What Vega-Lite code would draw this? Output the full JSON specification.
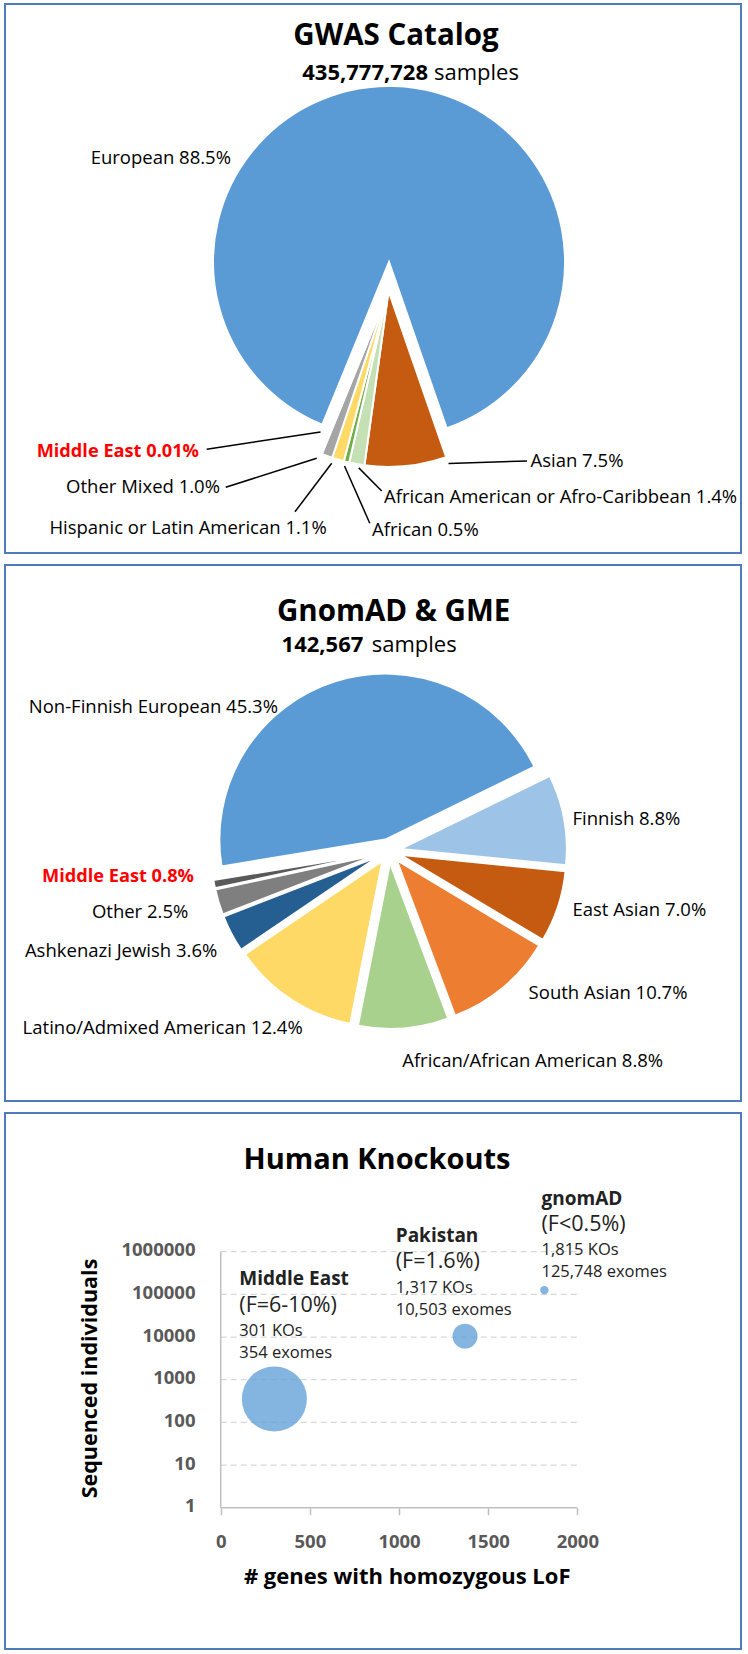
{
  "$schema": "https://vega.github.io/schema/vega-lite/v6.json",
  "padding": {"left": 4, "top": 3, "right": 0, "bottom": 0},
  "spacing": 10,
  "background": "white",
  "resolve": {"scale": {"color": "independent", "theta": "independent", "size": "independent"}},
  "config": {
    "font": "Open Sans",
    "view": {"stroke": "#4F7BBA", "strokeWidth": 2},
    "text": {"font": "Open Sans", "baseline": "alphabetic", "color": "#000000"},
    "axis": {"labelFont": "Open Sans", "titleFont": "Open Sans"}
  },
  "datasets": {
    "gwas": [
      {"population": "European", "pct": 88.5, "order": 1},
      {"population": "Asian", "pct": 7.5, "order": 2},
      {"population": "African American or Afro-Caribbean", "pct": 1.4, "order": 3},
      {"population": "African", "pct": 0.5, "order": 4},
      {"population": "Hispanic or Latin American", "pct": 1.1, "order": 5},
      {"population": "Other Mixed", "pct": 1.0, "order": 6},
      {"population": "Middle East", "pct": 0.01, "order": 7}
    ],
    "gnomad": [
      {"population": "Non-Finnish European", "pct": 45.3, "order": 1},
      {"population": "Finnish", "pct": 8.8, "order": 2},
      {"population": "East Asian", "pct": 7.0, "order": 3},
      {"population": "South Asian", "pct": 10.7, "order": 4},
      {"population": "African/African American", "pct": 8.8, "order": 5},
      {"population": "Latino/Admixed American", "pct": 12.4, "order": 6},
      {"population": "Ashkenazi Jewish", "pct": 3.6, "order": 7},
      {"population": "Other", "pct": 2.5, "order": 8},
      {"population": "Middle East", "pct": 0.8, "order": 9}
    ],
    "knockouts": [
      {"cohort": "Middle East", "genes": 301, "n": 354, "ko_per_exome": 0.85},
      {"cohort": "Pakistan", "genes": 1370, "n": 10503, "ko_per_exome": 0.125},
      {"cohort": "gnomAD", "genes": 1815, "n": 125748, "ko_per_exome": 0.0144}
    ]
  },
  "vconcat": [
    {
      "width": 736,
      "height": 549,
      "layer": [
        {
          "data": {"name": "gwas"},
          "transform": [
            {"stack": "pct", "groupby": [], "sort": [{"field": "order", "order": "ascending"}], "as": ["t0", "t1"]},
            {"filter": {"field": "population", "equal": "European"}}
          ],
          "mark": {"type": "arc", "outerRadius": 176, "stroke": "white", "strokeWidth": 2},
          "encoding": {
            "theta": {"field": "t0", "type": "quantitative", "scale": {"domain": [0, 100.01], "range": [3.5308, 9.814]}},
            "theta2": {"field": "t1"},
            "color": {"field": "population", "type": "nominal", "legend": null, "scale": {"domain": ["European", "Asian", "African American or Afro-Caribbean", "African", "Hispanic or Latin American", "Other Mixed", "Middle East"], "range": ["#5B9BD5", "#C55A11", "#C5E0B4", "#70AD47", "#FFD966", "#A5A5A5", "#7F7F7F"]}},
            "x": {"datum": 0.003, "type": "quantitative", "axis": null, "scale": {"domain": [-2.17898, 2.00284], "nice": false, "zero": false}},
            "y": {"datum": 0.165, "type": "quantitative", "axis": null, "scale": {"domain": [-1.48864, 1.63068], "nice": false, "zero": false}}
          }
        },
        {
          "data": {"name": "gwas"},
          "transform": [
            {"stack": "pct", "groupby": [], "sort": [{"field": "order", "order": "ascending"}], "as": ["t0", "t1"]},
            {"filter": {"not": {"field": "population", "equal": "European"}}}
          ],
          "mark": {"type": "arc", "outerRadius": 176, "stroke": "white", "strokeWidth": 2},
          "encoding": {
            "theta": {"field": "t0", "type": "quantitative", "scale": {"domain": [0, 100.01], "range": [3.5308, 9.814]}},
            "theta2": {"field": "t1"},
            "color": {"field": "population", "type": "nominal", "legend": null, "scale": {"domain": ["European", "Asian", "African American or Afro-Caribbean", "African", "Hispanic or Latin American", "Other Mixed", "Middle East"], "range": ["#5B9BD5", "#C55A11", "#C5E0B4", "#70AD47", "#FFD966", "#A5A5A5", "#7F7F7F"]}},
            "x": {"datum": 0, "type": "quantitative", "axis": null, "scale": {"domain": [-2.17898, 2.00284], "nice": false, "zero": false}},
            "y": {"datum": 0, "type": "quantitative", "axis": null, "scale": {"domain": [-1.48864, 1.63068], "nice": false, "zero": false}}
          }
        },
        {
          "data": {"values": [
            {"x": -1.033, "y": -0.8994, "x2": -0.3864, "y2": -0.8011},
            {"x": -0.925, "y": -1.1153, "x2": -0.408, "y2": -0.9506},
            {"x": -0.5313, "y": -1.254, "x2": -0.3227, "y2": -0.979},
            {"x": -0.1063, "y": -1.3193, "x2": -0.25, "y2": -0.9943},
            {"x": -0.0386, "y": -1.1364, "x2": -0.1688, "y2": -1.0051},
            {"x": 0.3409, "y": -0.9801, "x2": 0.7869, "y2": -0.9659}
          ]},
          "mark": {"type": "rule", "color": "#000000", "strokeWidth": 1.5},
          "encoding": {
            "x": {"field": "x", "type": "quantitative", "axis": null, "scale": {"domain": [-2.17898, 2.00284], "nice": false, "zero": false}},
            "y": {"field": "y", "type": "quantitative", "axis": null, "scale": {"domain": [-1.48864, 1.63068], "nice": false, "zero": false}},
            "x2": {"field": "x2"},
            "y2": {"field": "y2"}
          }
        },
        {
          "data": {"values": [{"label": "GWAS Catalog", "x": 0.0426, "y": 1.3949}]},
          "mark": {"type": "text", "align": "center", "fontSize": 29.5, "fontWeight": "bold"},
          "encoding": {
            "x": {"field": "x", "type": "quantitative", "axis": null, "scale": {"domain": [-2.17898, 2.00284], "nice": false, "zero": false}},
            "y": {"field": "y", "type": "quantitative", "axis": null, "scale": {"domain": [-1.48864, 1.63068], "nice": false, "zero": false}},
            "text": {"field": "label", "type": "nominal"}
          }
        },
        {
          "data": {"values": [{"label": "435,777,728", "x": 0.2244, "y": 1.1989}]},
          "mark": {"type": "text", "align": "right", "fontSize": 22, "fontWeight": "bold"},
          "encoding": {
            "x": {"field": "x", "type": "quantitative", "axis": null, "scale": {"domain": [-2.17898, 2.00284], "nice": false, "zero": false}},
            "y": {"field": "y", "type": "quantitative", "axis": null, "scale": {"domain": [-1.48864, 1.63068], "nice": false, "zero": false}},
            "text": {"field": "label", "type": "nominal"}
          }
        },
        {
          "data": {"values": [{"label": "samples", "x": 0.2585, "y": 1.1989}]},
          "mark": {"type": "text", "align": "left", "fontSize": 22},
          "encoding": {
            "x": {"field": "x", "type": "quantitative", "axis": null, "scale": {"domain": [-2.17898, 2.00284], "nice": false, "zero": false}},
            "y": {"field": "y", "type": "quantitative", "axis": null, "scale": {"domain": [-1.48864, 1.63068], "nice": false, "zero": false}},
            "text": {"field": "label", "type": "nominal"}
          }
        },
        {
          "data": {"values": [
            {"label": "European 88.5%", "x": -0.8949, "y": 0.7188},
            {"label": "Other Mixed 1.0%", "x": -0.9574, "y": -1.146},
            {"label": "Hispanic or Latin American 1.1%", "x": -0.3511, "y": -1.3807}
          ]},
          "mark": {"type": "text", "align": "right", "fontSize": 18.5},
          "encoding": {
            "x": {"field": "x", "type": "quantitative", "axis": null, "scale": {"domain": [-2.17898, 2.00284], "nice": false, "zero": false}},
            "y": {"field": "y", "type": "quantitative", "axis": null, "scale": {"domain": [-1.48864, 1.63068], "nice": false, "zero": false}},
            "text": {"field": "label", "type": "nominal"}
          }
        },
        {
          "data": {"values": [
            {"label": "African 0.5%", "x": -0.0938, "y": -1.392},
            {"label": "African American or Afro-Caribbean 1.4%", "x": -0.0256, "y": -1.2063},
            {"label": "Asian 7.5%", "x": 0.8068, "y": -1.0}
          ]},
          "mark": {"type": "text", "align": "left", "fontSize": 18.5},
          "encoding": {
            "x": {"field": "x", "type": "quantitative", "axis": null, "scale": {"domain": [-2.17898, 2.00284], "nice": false, "zero": false}},
            "y": {"field": "y", "type": "quantitative", "axis": null, "scale": {"domain": [-1.48864, 1.63068], "nice": false, "zero": false}},
            "text": {"field": "label", "type": "nominal"}
          }
        },
        {
          "data": {"values": [{"label": "Middle East 0.01%", "x": -1.0767, "y": -0.9415}]},
          "mark": {"type": "text", "align": "right", "fontSize": 18.2, "fontWeight": "bold", "color": "#FF0000"},
          "encoding": {
            "x": {"field": "x", "type": "quantitative", "axis": null, "scale": {"domain": [-2.17898, 2.00284], "nice": false, "zero": false}},
            "y": {"field": "y", "type": "quantitative", "axis": null, "scale": {"domain": [-1.48864, 1.63068], "nice": false, "zero": false}},
            "text": {"field": "label", "type": "nominal"}
          }
        }
      ]
    },
    {
      "width": 736,
      "height": 536,
      "layer": [
        {"data": {"name": "gnomad"}, "transform": [{"stack": "pct", "groupby": [], "sort": [{"field": "order"}], "as": ["t0", "t1"]}, {"filter": {"field": "population", "equal": "Non-Finnish European"}}],
         "mark": {"type": "arc", "outerRadius": 166, "stroke": "white", "strokeWidth": 2},
         "encoding": {"theta": {"field": "t0", "type": "quantitative", "scale": {"domain": [0, 99.9], "range": [4.5501, 10.8333]}}, "theta2": {"field": "t1"},
           "color": {"field": "population", "type": "nominal", "legend": null, "scale": {"domain": ["Non-Finnish European", "Finnish", "East Asian", "South Asian", "African/African American", "Latino/Admixed American", "Ashkenazi Jewish", "Other", "Middle East"], "range": ["#5B9BD5", "#9DC3E6", "#C55A11", "#ED7D31", "#A9D18E", "#FFD966", "#255E91", "#7F7F7F", "#595959"]}},
           "x": {"datum": -0.022, "type": "quantitative", "axis": null, "scale": {"domain": [-2.31325, 2.12048], "nice": false, "zero": false}},
           "y": {"datum": 0.0689, "type": "quantitative", "axis": null, "scale": {"domain": [-1.50602, 1.72289], "nice": false, "zero": false}}}},
        {"data": {"name": "gnomad"}, "transform": [{"stack": "pct", "groupby": [], "sort": [{"field": "order"}], "as": ["t0", "t1"]}, {"filter": {"field": "population", "equal": "Finnish"}}],
         "mark": {"type": "arc", "outerRadius": 166, "stroke": "white", "strokeWidth": 2},
         "encoding": {"theta": {"field": "t0", "type": "quantitative", "scale": {"domain": [0, 99.9], "range": [4.5501, 10.8333]}}, "theta2": {"field": "t1"},
           "color": {"field": "population", "type": "nominal", "legend": null, "scale": {"domain": ["Non-Finnish European", "Finnish", "East Asian", "South Asian", "African/African American", "Latino/Admixed American", "Ashkenazi Jewish", "Other", "Middle East"], "range": ["#5B9BD5", "#9DC3E6", "#C55A11", "#ED7D31", "#A9D18E", "#FFD966", "#255E91", "#7F7F7F", "#595959"]}},
           "x": {"datum": 0.0712, "type": "quantitative", "axis": null, "scale": {"domain": [-2.31325, 2.12048], "nice": false, "zero": false}},
           "y": {"datum": 0.0128, "type": "quantitative", "axis": null, "scale": {"domain": [-1.50602, 1.72289], "nice": false, "zero": false}}}},
        {"data": {"name": "gnomad"}, "transform": [{"stack": "pct", "groupby": [], "sort": [{"field": "order"}], "as": ["t0", "t1"]}, {"filter": {"field": "population", "equal": "East Asian"}}],
         "mark": {"type": "arc", "outerRadius": 166, "stroke": "white", "strokeWidth": 2},
         "encoding": {"theta": {"field": "t0", "type": "quantitative", "scale": {"domain": [0, 99.9], "range": [4.5501, 10.8333]}}, "theta2": {"field": "t1"},
           "color": {"field": "population", "type": "nominal", "legend": null, "scale": {"domain": ["Non-Finnish European", "Finnish", "East Asian", "South Asian", "African/African American", "Latino/Admixed American", "Ashkenazi Jewish", "Other", "Middle East"], "range": ["#5B9BD5", "#9DC3E6", "#C55A11", "#ED7D31", "#A9D18E", "#FFD966", "#255E91", "#7F7F7F", "#595959"]}},
           "x": {"datum": 0.0687, "type": "quantitative", "axis": null, "scale": {"domain": [-2.31325, 2.12048], "nice": false, "zero": false}},
           "y": {"datum": -0.0227, "type": "quantitative", "axis": null, "scale": {"domain": [-1.50602, 1.72289], "nice": false, "zero": false}}}},
        {"data": {"name": "gnomad"}, "transform": [{"stack": "pct", "groupby": [], "sort": [{"field": "order"}], "as": ["t0", "t1"]}, {"filter": {"field": "population", "equal": "South Asian"}}],
         "mark": {"type": "arc", "outerRadius": 166, "stroke": "white", "strokeWidth": 2},
         "encoding": {"theta": {"field": "t0", "type": "quantitative", "scale": {"domain": [0, 99.9], "range": [4.5501, 10.8333]}}, "theta2": {"field": "t1"},
           "color": {"field": "population", "type": "nominal", "legend": null, "scale": {"domain": ["Non-Finnish European", "Finnish", "East Asian", "South Asian", "African/African American", "Latino/Admixed American", "Ashkenazi Jewish", "Other", "Middle East"], "range": ["#5B9BD5", "#9DC3E6", "#C55A11", "#ED7D31", "#A9D18E", "#FFD966", "#255E91", "#7F7F7F", "#595959"]}},
           "x": {"datum": 0.0463, "type": "quantitative", "axis": null, "scale": {"domain": [-2.31325, 2.12048], "nice": false, "zero": false}},
           "y": {"datum": -0.0555, "type": "quantitative", "axis": null, "scale": {"domain": [-1.50602, 1.72289], "nice": false, "zero": false}}}},
        {"data": {"name": "gnomad"}, "transform": [{"stack": "pct", "groupby": [], "sort": [{"field": "order"}], "as": ["t0", "t1"]}, {"filter": {"field": "population", "equal": "African/African American"}}],
         "mark": {"type": "arc", "outerRadius": 166, "stroke": "white", "strokeWidth": 2},
         "encoding": {"theta": {"field": "t0", "type": "quantitative", "scale": {"domain": [0, 99.9], "range": [4.5501, 10.8333]}}, "theta2": {"field": "t1"},
           "color": {"field": "population", "type": "nominal", "legend": null, "scale": {"domain": ["Non-Finnish European", "Finnish", "East Asian", "South Asian", "African/African American", "Latino/Admixed American", "Ashkenazi Jewish", "Other", "Middle East"], "range": ["#5B9BD5", "#9DC3E6", "#C55A11", "#ED7D31", "#A9D18E", "#FFD966", "#255E91", "#7F7F7F", "#595959"]}},
           "x": {"datum": 0.0059, "type": "quantitative", "axis": null, "scale": {"domain": [-2.31325, 2.12048], "nice": false, "zero": false}},
           "y": {"datum": -0.0721, "type": "quantitative", "axis": null, "scale": {"domain": [-1.50602, 1.72289], "nice": false, "zero": false}}}},
        {"data": {"name": "gnomad"}, "transform": [{"stack": "pct", "groupby": [], "sort": [{"field": "order"}], "as": ["t0", "t1"]}, {"filter": {"field": "population", "equal": "Latino/Admixed American"}}],
         "mark": {"type": "arc", "outerRadius": 166, "stroke": "white", "strokeWidth": 2},
         "encoding": {"theta": {"field": "t0", "type": "quantitative", "scale": {"domain": [0, 99.9], "range": [4.5501, 10.8333]}}, "theta2": {"field": "t1"},
           "color": {"field": "population", "type": "nominal", "legend": null, "scale": {"domain": ["Non-Finnish European", "Finnish", "East Asian", "South Asian", "African/African American", "Latino/Admixed American", "Ashkenazi Jewish", "Other", "Middle East"], "range": ["#5B9BD5", "#9DC3E6", "#C55A11", "#ED7D31", "#A9D18E", "#FFD966", "#255E91", "#7F7F7F", "#595959"]}},
           "x": {"datum": -0.0399, "type": "quantitative", "axis": null, "scale": {"domain": [-2.31325, 2.12048], "nice": false, "zero": false}},
           "y": {"datum": -0.0603, "type": "quantitative", "axis": null, "scale": {"domain": [-1.50602, 1.72289], "nice": false, "zero": false}}}},
        {"data": {"name": "gnomad"}, "transform": [{"stack": "pct", "groupby": [], "sort": [{"field": "order"}], "as": ["t0", "t1"]}, {"filter": {"field": "population", "equal": "Ashkenazi Jewish"}}],
         "mark": {"type": "arc", "outerRadius": 166, "stroke": "white", "strokeWidth": 2},
         "encoding": {"theta": {"field": "t0", "type": "quantitative", "scale": {"domain": [0, 99.9], "range": [4.5501, 10.8333]}}, "theta2": {"field": "t1"},
           "color": {"field": "population", "type": "nominal", "legend": null, "scale": {"domain": ["Non-Finnish European", "Finnish", "East Asian", "South Asian", "African/African American", "Latino/Admixed American", "Ashkenazi Jewish", "Other", "Middle East"], "range": ["#5B9BD5", "#9DC3E6", "#C55A11", "#ED7D31", "#A9D18E", "#FFD966", "#255E91", "#7F7F7F", "#595959"]}},
           "x": {"datum": -0.064, "type": "quantitative", "axis": null, "scale": {"domain": [-2.31325, 2.12048], "nice": false, "zero": false}},
           "y": {"datum": -0.0336, "type": "quantitative", "axis": null, "scale": {"domain": [-1.50602, 1.72289], "nice": false, "zero": false}}}},
        {"data": {"name": "gnomad"}, "transform": [{"stack": "pct", "groupby": [], "sort": [{"field": "order"}], "as": ["t0", "t1"]}, {"filter": {"field": "population", "equal": "Other"}}],
         "mark": {"type": "arc", "outerRadius": 166, "stroke": "white", "strokeWidth": 2},
         "encoding": {"theta": {"field": "t0", "type": "quantitative", "scale": {"domain": [0, 99.9], "range": [4.5501, 10.8333]}}, "theta2": {"field": "t1"},
           "color": {"field": "population", "type": "nominal", "legend": null, "scale": {"domain": ["Non-Finnish European", "Finnish", "East Asian", "South Asian", "African/African American", "Latino/Admixed American", "Ashkenazi Jewish", "Other", "Middle East"], "range": ["#5B9BD5", "#9DC3E6", "#C55A11", "#ED7D31", "#A9D18E", "#FFD966", "#255E91", "#7F7F7F", "#595959"]}},
           "x": {"datum": -0.0692, "type": "quantitative", "axis": null, "scale": {"domain": [-2.31325, 2.12048], "nice": false, "zero": false}},
           "y": {"datum": -0.0208, "type": "quantitative", "axis": null, "scale": {"domain": [-1.50602, 1.72289], "nice": false, "zero": false}}}},
        {"data": {"name": "gnomad"}, "transform": [{"stack": "pct", "groupby": [], "sort": [{"field": "order"}], "as": ["t0", "t1"]}, {"filter": {"field": "population", "equal": "Middle East"}}],
         "mark": {"type": "arc", "outerRadius": 166, "stroke": "white", "strokeWidth": 2},
         "encoding": {"theta": {"field": "t0", "type": "quantitative", "scale": {"domain": [0, 99.9], "range": [4.5501, 10.8333]}}, "theta2": {"field": "t1"},
           "color": {"field": "population", "type": "nominal", "legend": null, "scale": {"domain": ["Non-Finnish European", "Finnish", "East Asian", "South Asian", "African/African American", "Latino/Admixed American", "Ashkenazi Jewish", "Other", "Middle East"], "range": ["#5B9BD5", "#9DC3E6", "#C55A11", "#ED7D31", "#A9D18E", "#FFD966", "#255E91", "#7F7F7F", "#595959"]}},
           "x": {"datum": -0.071, "type": "quantitative", "axis": null, "scale": {"domain": [-2.31325, 2.12048], "nice": false, "zero": false}},
           "y": {"datum": -0.0135, "type": "quantitative", "axis": null, "scale": {"domain": [-1.50602, 1.72289], "nice": false, "zero": false}}}},
        {
          "data": {"values": [{"label": "GnomAD & GME", "x": 0.0277, "y": 1.3855}]},
          "mark": {"type": "text", "align": "center", "fontSize": 29.5, "fontWeight": "bold"},
          "encoding": {
            "x": {"field": "x", "type": "quantitative", "axis": null, "scale": {"domain": [-2.31325, 2.12048], "nice": false, "zero": false}},
            "y": {"field": "y", "type": "quantitative", "axis": null, "scale": {"domain": [-1.50602, 1.72289], "nice": false, "zero": false}},
            "text": {"field": "label", "type": "nominal"}
          }
        },
        {
          "data": {"values": [{"label": "142,567", "x": -0.1548, "y": 1.2006}]},
          "mark": {"type": "text", "align": "right", "fontSize": 22, "fontWeight": "bold"},
          "encoding": {
            "x": {"field": "x", "type": "quantitative", "axis": null, "scale": {"domain": [-2.31325, 2.12048], "nice": false, "zero": false}},
            "y": {"field": "y", "type": "quantitative", "axis": null, "scale": {"domain": [-1.50602, 1.72289], "nice": false, "zero": false}},
            "text": {"field": "label", "type": "nominal"}
          }
        },
        {
          "data": {"values": [{"label": "samples", "x": -0.1042, "y": 1.2006}]},
          "mark": {"type": "text", "align": "left", "fontSize": 22},
          "encoding": {
            "x": {"field": "x", "type": "quantitative", "axis": null, "scale": {"domain": [-2.31325, 2.12048], "nice": false, "zero": false}},
            "y": {"field": "y", "type": "quantitative", "axis": null, "scale": {"domain": [-1.50602, 1.72289], "nice": false, "zero": false}},
            "text": {"field": "label", "type": "nominal"}
          }
        },
        {
          "data": {"values": [
            {"label": "Non-Finnish European 45.3%", "x": -0.6687, "y": 0.8331},
            {"label": "Latino/Admixed American 12.4%", "x": -0.5199, "y": -1.1024},
            {"label": "Ashkenazi Jewish 3.6%", "x": -1.0343, "y": -0.6367},
            {"label": "Other 2.5%", "x": -1.209, "y": -0.4054}
          ]},
          "mark": {"type": "text", "align": "right", "fontSize": 18.5},
          "encoding": {
            "x": {"field": "x", "type": "quantitative", "axis": null, "scale": {"domain": [-2.31325, 2.12048], "nice": false, "zero": false}},
            "y": {"field": "y", "type": "quantitative", "axis": null, "scale": {"domain": [-1.50602, 1.72289], "nice": false, "zero": false}},
            "text": {"field": "label", "type": "nominal"}
          }
        },
        {
          "data": {"values": [
            {"label": "Finnish 8.8%", "x": 1.1054, "y": 0.1566},
            {"label": "East Asian 7.0%", "x": 1.1054, "y": -0.3916},
            {"label": "South Asian 10.7%", "x": 0.841, "y": -0.8892},
            {"label": "African/African American 8.8%", "x": 0.0795, "y": -1.3012}
          ]},
          "mark": {"type": "text", "align": "left", "fontSize": 18.5},
          "encoding": {
            "x": {"field": "x", "type": "quantitative", "axis": null, "scale": {"domain": [-2.31325, 2.12048], "nice": false, "zero": false}},
            "y": {"field": "y", "type": "quantitative", "axis": null, "scale": {"domain": [-1.50602, 1.72289], "nice": false, "zero": false}},
            "text": {"field": "label", "type": "nominal"}
          }
        },
        {
          "data": {"values": [{"label": "Middle East 0.8%", "x": -1.1747, "y": -0.1886}]},
          "mark": {"type": "text", "align": "right", "fontSize": 18.2, "fontWeight": "bold", "color": "#FF0000"},
          "encoding": {
            "x": {"field": "x", "type": "quantitative", "axis": null, "scale": {"domain": [-2.31325, 2.12048], "nice": false, "zero": false}},
            "y": {"field": "y", "type": "quantitative", "axis": null, "scale": {"domain": [-1.50602, 1.72289], "nice": false, "zero": false}},
            "text": {"field": "label", "type": "nominal"}
          }
        }
      ]
    },
    {
      "width": 736,
      "height": 536,
      "layer": [
        {
          "data": {"values": [{"v": 10}, {"v": 100}, {"v": 1000}, {"v": 10000}, {"v": 100000}, {"v": 1000000}]},
          "mark": {"type": "rule", "color": "#D9D9D9", "strokeWidth": 1.3, "strokeDash": [6, 4]},
          "encoding": {
            "x": {"datum": 0, "type": "quantitative", "scale": {"domain": [-1209.6, 2917.6], "nice": false, "zero": false}},
            "x2": {"datum": 2000},
            "y": {"field": "v", "type": "quantitative", "scale": {"type": "log", "domain": [0.000488, 1781300000], "nice": false}}
          }
        },
        {
          "data": {"values": [{"from": 1, "to": 1000000}]},
          "mark": {"type": "rule", "color": "#BFBFBF", "strokeWidth": 1.5},
          "encoding": {
            "x": {"datum": 0, "type": "quantitative", "scale": {"domain": [-1209.6, 2917.6], "nice": false, "zero": false}},
            "y": {"field": "from", "type": "quantitative", "scale": {"type": "log", "domain": [0.000488, 1781300000], "nice": false}},
            "y2": {"field": "to"}
          }
        },
        {
          "data": {"values": [{"from": 0, "to": 2000}]},
          "mark": {"type": "rule", "color": "#BFBFBF", "strokeWidth": 1.5},
          "encoding": {
            "x": {"field": "from", "type": "quantitative", "scale": {"domain": [-1209.6, 2917.6], "nice": false, "zero": false}},
            "x2": {"field": "to"},
            "y": {"datum": 1, "type": "quantitative", "scale": {"type": "log", "domain": [0.000488, 1781300000], "nice": false}}
          }
        },
        {
          "data": {"name": "knockouts"},
          "mark": {"type": "circle", "fill": "#5B9BD5", "fillOpacity": 0.75, "strokeWidth": 0},
          "encoding": {
            "x": {"field": "genes", "type": "quantitative", "scale": {"domain": [-1209.6, 2917.6], "nice": false, "zero": false},
              "axis": {"values": [0, 500, 1000, 1500, 2000], "format": "d", "offset": -141.3, "domain": false, "grid": false, "ticks": true, "tickSize": 7, "tickColor": "#BFBFBF", "tickWidth": 1.5,
                "labelFontSize": 18.5, "labelFontWeight": "bold", "labelColor": "#595959", "labelPadding": 18, "labelFlush": false, "labelOverlap": false,
                "title": "# genes with homozygous LoF", "titleFontSize": 22, "titleFontWeight": "bold", "titleColor": "#000000", "titleX": 401.7, "titleY": 75.6, "titleAlign": "center", "titleBaseline": "alphabetic"}},
            "y": {"field": "n", "type": "quantitative", "scale": {"type": "log", "domain": [0.000488, 1781300000], "nice": false},
              "axis": {"values": [1, 10, 100, 1000, 10000, 100000, 1000000], "format": "d", "offset": -215.7, "domain": false, "grid": false, "ticks": false,
                "labelFontSize": 18.5, "labelFontWeight": "bold", "labelColor": "#595959", "labelPadding": 25.7, "labelOffset": -2, "labelOverlap": false, "labelFlush": false,
                "title": "Sequenced individuals", "titleFontSize": 21.5, "titleFontWeight": "bold", "titleColor": "#000000", "titleAngle": 270, "titleX": -130.1, "titleY": 265, "titleAlign": "center", "titleBaseline": "middle"}},
            "size": {"field": "ko_per_exome", "type": "quantitative", "legend": null, "scale": {"type": "linear", "domain": [0, 0.85], "range": [0, 4231]}}
          }
        },
        {
          "data": {"values": [{"label": "Human Knockouts", "genes": 876.5, "n": 86700000}]},
          "mark": {"type": "text", "align": "center", "fontSize": 29, "fontWeight": "bold"},
          "encoding": {
            "x": {"field": "genes", "type": "quantitative", "scale": {"domain": [-1209.6, 2917.6], "nice": false, "zero": false}},
            "y": {"field": "n", "type": "quantitative", "scale": {"type": "log", "domain": [0.000488, 1781300000], "nice": false}},
            "text": {"field": "label", "type": "nominal"}
          }
        },
        {
          "data": {"values": [
            {"label": "Middle East", "genes": 104.3, "n": 165800},
            {"label": "Pakistan", "genes": 981.3, "n": 1661000},
            {"label": "gnomAD", "genes": 1798.9, "n": 12430000}
          ]},
          "mark": {"type": "text", "align": "left", "fontSize": 19, "fontWeight": "bold", "color": "#222222"},
          "encoding": {
            "x": {"field": "genes", "type": "quantitative", "scale": {"domain": [-1209.6, 2917.6], "nice": false, "zero": false}},
            "y": {"field": "n", "type": "quantitative", "scale": {"type": "log", "domain": [0.000488, 1781300000], "nice": false}},
            "text": {"field": "label", "type": "nominal"}
          }
        },
        {
          "data": {"values": [
            {"label": "(F=6-10%)", "genes": 104.3, "n": 39240},
            {"label": "(F=1.6%)", "genes": 981.3, "n": 408200},
            {"label": "(F<0.5%)", "genes": 1798.9, "n": 3105000}
          ]},
          "mark": {"type": "text", "align": "left", "fontSize": 21.5, "color": "#222222"},
          "encoding": {
            "x": {"field": "genes", "type": "quantitative", "scale": {"domain": [-1209.6, 2917.6], "nice": false, "zero": false}},
            "y": {"field": "n", "type": "quantitative", "scale": {"type": "log", "domain": [0.000488, 1781300000], "nice": false}},
            "text": {"field": "label", "type": "nominal"}
          }
        },
        {
          "data": {"values": [
            {"label": "301 KOs", "genes": 104.3, "n": 10745},
            {"label": "354 exomes", "genes": 104.3, "n": 3279},
            {"label": "1,317 KOs", "genes": 981.3, "n": 109400},
            {"label": "10,503 exomes", "genes": 981.3, "n": 32840},
            {"label": "1,815 KOs", "genes": 1798.9, "n": 836600},
            {"label": "125,748 exomes", "genes": 1798.9, "n": 259400}
          ]},
          "mark": {"type": "text", "align": "left", "fontSize": 16.5, "color": "#222222"},
          "encoding": {
            "x": {"field": "genes", "type": "quantitative", "scale": {"domain": [-1209.6, 2917.6], "nice": false, "zero": false}},
            "y": {"field": "n", "type": "quantitative", "scale": {"type": "log", "domain": [0.000488, 1781300000], "nice": false}},
            "text": {"field": "label", "type": "nominal"}
          }
        }
      ]
    }
  ]
}
